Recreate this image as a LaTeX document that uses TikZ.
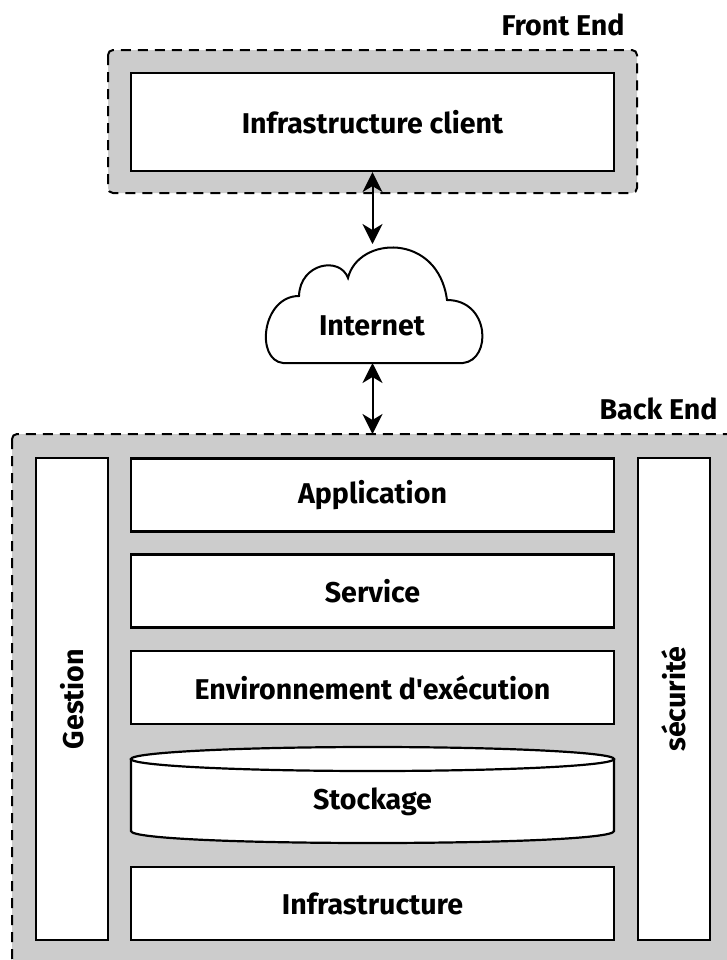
\documentclass[tikz,border=0pt]{standalone}
\usepackage{fontspec}
\setmainfont{Fira Sans}
\usetikzlibrary{arrows.meta}
\definecolor{tiergray}{HTML}{CCCCCC}

\begin{document}
\begin{tikzpicture}[x=0.5pt, y=-0.5pt,
    tier/.style={draw, fill=tiergray, line width=1pt, dash pattern=on 5pt off 3.5pt, rounded corners=2.5pt},
    layer/.style={draw, fill=white, line width=1.1pt, inner sep=0pt, minimum width=241.5pt, minimum height=36.5pt, font=\bfseries\fontsize{14.3}{17}\selectfont},
    side/.style={layer, rotate=90, minimum width=241pt, minimum height=36pt},
    title/.style={font=\bfseries\fontsize{14.3}{17}\selectfont, inner sep=0pt},
    link/.style={{Stealth[length=10pt,width=10pt,inset=3pt]}-{Stealth[length=10pt,width=10pt,inset=3pt]}, line width=1pt}]
  \useasboundingbox (0,0) rectangle (727,960);

  % front end
  \draw[tier] (108,50) rectangle (637,193);
  \node[title, anchor=base east] (frontlbl) at (625,35) {Front End};
  \node[layer, minimum height=49pt] (client) at (372.5,122) {Infrastructure client};

  % internet
  \draw[line width=1pt, fill=white] (283,363) .. controls (255,360) and (262,296) .. (299,296)
    .. controls (300,263) and (340,256) .. (348,278)
    .. controls (358,236) and (438,232) .. (447,300)
    .. controls (490,300) and (492,360) .. (463,363) -- cycle;
  \node[title] (internet) at (372,326) {Internet};
  \coordinate (cloudtop) at (372.5,244);
  \coordinate (cloudbot) at (372.5,363);

  % back end
  \draw[tier] (12,434) rectangle (742,963);
  \node[title, anchor=base east] (backlbl) at (718,419) {Back End};
  \coordinate (backtop) at (372.5,434);

  \node[side] (gestion) at (72,699) {Gestion};
  \node[side] (securite) at (674,699) {sécurité};

  \node[layer] (app) at (372.5,495) {Application};
  \node[layer] (service) at (372.5,591) {Service};
  \node[layer] (runtime) at (372.5,687.5) {Environnement d\textquotesingle exécution};
  \filldraw[fill=white, line width=1.1pt] (131,759) -- (131,831) .. controls (131,847) and (614,847) .. (614,831) -- (614,759);
  \filldraw[fill=white, line width=1.1pt] (372.5,759) ellipse [x radius=241.5, y radius=12];
  \node[title] (stockage) at (372.5,802) {Stockage};
  \node[layer] (infra) at (372.5,903.5) {Infrastructure};

  \draw[link] (client.south) -- (cloudtop);
  \draw[link] (cloudbot) -- (backtop);
\end{tikzpicture}
\end{document}
